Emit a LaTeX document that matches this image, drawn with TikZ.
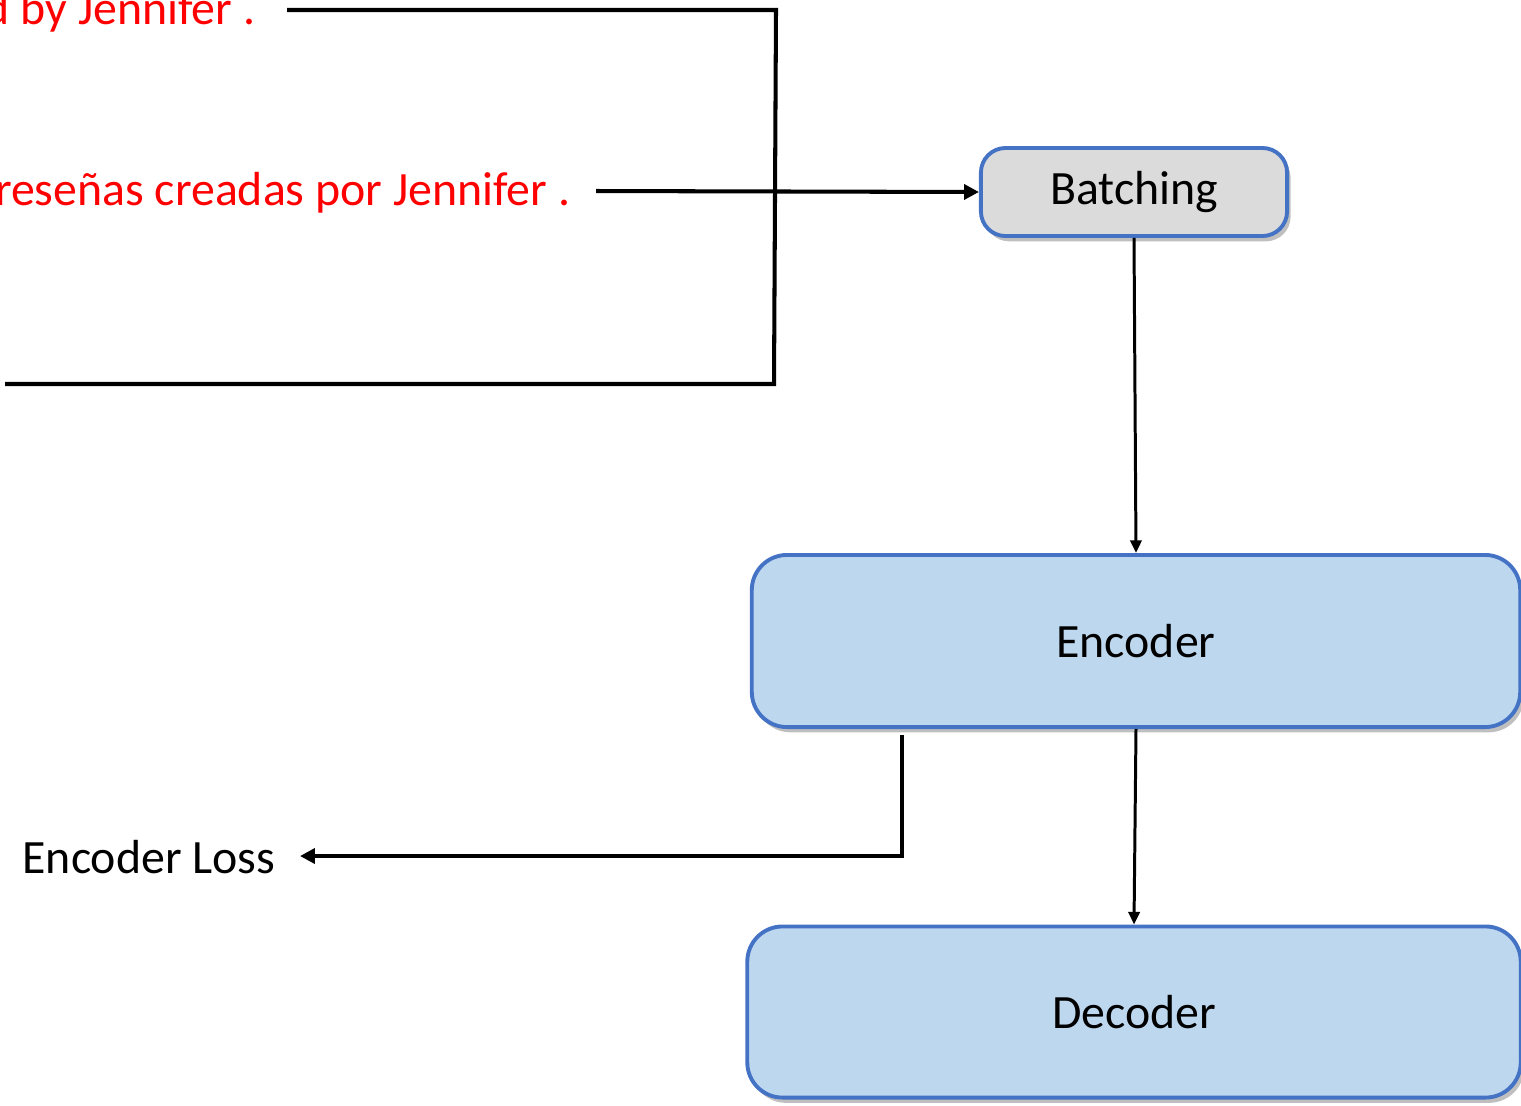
\documentclass[tikz,border=0pt]{standalone}
\usepackage{fontspec}
\setmainfont{Carlito}
\usepackage{tikz}
\usetikzlibrary{calc}
\usetikzlibrary{arrows.meta}
\usetikzlibrary{positioning}
\usetikzlibrary{shadows}
\definecolor{boxblue}{RGB}{68, 114, 196}
\definecolor{boxfill}{RGB}{189, 215, 238}
\definecolor{batchfill}{RGB}{219, 219, 219}
\definecolor{srcred}{RGB}{255, 0, 0}
\tikzset{
  block/.style={draw=boxblue, line width=1.1pt, rounded corners=10pt, fill=boxfill,
                drop shadow={shadow xshift=1pt, shadow yshift=-1.5pt, opacity=0.5},
                font=\fontsize{13.6}{16}\selectfont},
  src/.style={color=srcred, anchor=east, inner sep=0pt, font=\fontsize{13.6}{16}\selectfont},
  wire/.style={line width=1.15pt},
  tip/.style={-{Triangle[length=4.2pt, width=4.2pt]}},
  flow/.style={line width=0.85pt, -{Triangle[length=3.6pt, width=3.2pt]}},
}
\begin{document}
\begin{tikzpicture}[x=0.01cm, y=-0.01cm]
            % Frame to ensure alignment:
            \useasboundingbox                                          (   0,    0) rectangle (1521, 1105);
            \clip                                                      (   0,    0) rectangle (1521, 1105);
            \node[src]                                   (srcen)   at ( 256,   12) {d by Jennifer .};
            \node[src]                                   (srces)   at ( 571,  193) {reseñas creadas por Jennifer .};
            \node[block, fill=batchfill, minimum width=3.06cm, minimum height=0.88cm, rounded corners=7pt]
                                                         (batching) at (1134,  192) {Batching};
            \node[block, minimum width=7.68cm, minimum height=1.72cm]
                                                         (encoder) at (1136,  641) {Encoder};
            \node[block, minimum width=7.73cm, minimum height=1.71cm]
                                                         (decoder) at (1134, 1012) {Decoder};
            \node[anchor=east, inner sep=0pt, font=\fontsize{13.6}{16}\selectfont]
                                                         (loss)    at ( 276,  857) {Encoder Loss};
            % Corner points of the wires
            \coordinate (topright)  at ( 776,   10);
            \coordinate (botright)  at ( 774,  384);
            \coordinate (botleft)   at (   5,  384);
            \coordinate (losstop)   at ( 902,  735);
            \coordinate (lossturn)  at ( 902,  856);
            % Wires
            \draw[wire]       ($(srcen.east)+(31,-2)$) -- (topright) -- (botright) -- (botleft);
            \draw[wire, tip]  ($(srces.east)+(25,-2)$) -- (batching.west);
            \draw[flow]       (batching.south) -- (encoder.north);
            \draw[flow]       (encoder.south)  -- (decoder.north);
            \draw[wire, tip]  (losstop) -- (lossturn) -- ($(loss.east)+(24,-1)$);
        \end{tikzpicture}
\end{document}
